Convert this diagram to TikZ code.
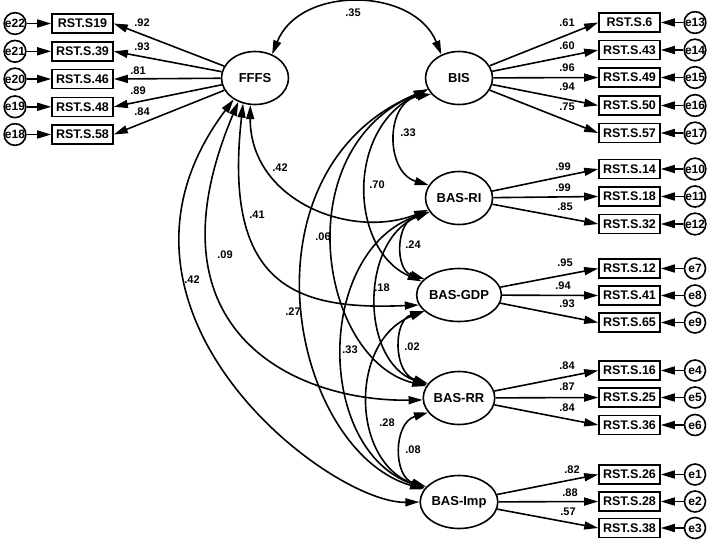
\documentclass[tikz,border=0pt]{standalone}
\usepackage{fontspec}
\setmainfont{Liberation Sans}
\usetikzlibrary{arrows.meta,shapes.geometric}
\begin{document}
\begin{tikzpicture}[x=1pt,y=-1pt,
  lat/.style={draw,ellipse,line width=1.6pt,minimum width=67pt,minimum height=53pt,inner sep=0pt,font=\fontsize{13}{13}\selectfont\bfseries},
  obs/.style={draw,rectangle,line width=1.6pt,minimum width=61pt,minimum height=19pt,inner sep=0pt,font=\fontsize{12.5}{12.5}\selectfont\bfseries},
  err/.style={draw,circle,line width=1.6pt,minimum size=21pt,inner sep=0pt,font=\fontsize{12}{12}\selectfont\bfseries},
  lab/.style={inner sep=0pt,font=\fontsize{11}{11}\selectfont\bfseries},
  arr/.style={line width=1.6pt,-{Triangle[length=14pt,width=8pt]}},
  cov/.style={line width=1.6pt,{Triangle[length=14pt,width=8pt]}-{Triangle[length=14pt,width=8pt]}},
]
\useasboundingbox (0,0) rectangle (714,547);
% latent variables
\node[lat] (ffs) at (255,78) {FFFS};
\node[lat] (bis) at (459,78) {BIS};
\node[lat] (ri) at (459,198) {BAS-RI};
\node[lat] (gdp) at (459,295) {BAS-GDP};
\node[lat] (rr) at (459,398) {BAS-RR};
\node[lat] (imp) at (459,502) {BAS-Imp};
% left indicators (FFFS)
\foreach \nm/\txt/\e/\y in {s19/RST.S19/e22/23.5, s39/RST.S.39/e21/51.3, s46/RST.S.46/e20/79, s48/RST.S.48/e19/106.8, s58/RST.S.58/e18/134.5}{
  \node[obs] (\nm) at (82.5,\y) {\txt};
  \node[err] (\e) at (15,\y) {\e};
  \draw[arr] (\e) -- (\nm);
  \draw[arr] (ffs) -- (\nm.east);
}
% right indicators
\foreach \f/\nm/\txt/\e/\y in {bis/s6/RST.S.6/e13/22.5, bis/s43/RST.S.43/e14/50, bis/s49/RST.S.49/e15/77.5, bis/s50/RST.S.50/e16/105.5, bis/s57/RST.S.57/e17/133,
  ri/s14/RST.S.14/e10/169, ri/s18/RST.S.18/e11/196.5, ri/s32/RST.S.32/e12/224,
  gdp/s12/RST.S.12/e7/268.5, gdp/s41/RST.S.41/e8/295.5, gdp/s65/RST.S.65/e9/322.5,
  rr/s16/RST.S.16/e4/370.5, rr/s25/RST.S.25/e5/397.5, rr/s36/RST.S.36/e6/425,
  imp/s26/RST.S.26/e1/474.5, imp/s28/RST.S.28/e2/501.5, imp/s38/RST.S.38/e3/528}{
  \node[obs] (\nm) at (629.5,\y) {\txt};
  \node[err] (\e) at (695,\y) {\e};
  \draw[arr] (\e) -- (\nm);
  \draw[arr] (\f) -- (\nm.west);
}
% loading labels
\foreach \n/\t/\x/\y in {a1/.92/142/22.7, a2/.93/142/46.7, a3/.81/138/70.7, a4/.89/138/90.7, a5/.84/142/111.7,
  b1/.61/567/22.7, b2/.60/567/46, b3/.96/567/68, b4/.94/567/87, b5/.75/567/107,
  c1/.99/563/167, c2/.99/563/188, c3/.85/565/207,
  d1/.95/565/263, d2/.94/563/286, d3/.93/567/304,
  f1/.84/567/366, f2/.87/567/387, f3/.84/567/408,
  g1/.82/572/470, g2/.88/570/493, g3/.57/568/512}{
  \node[lab] (\n) at (\x,\y) {\t};
}
% covariances
\draw[cov] (ffs.54) .. controls (300,-15) and (414,-13) .. (bis.127);
\draw[cov] (bis.210) .. controls (385,102) and (385,172) .. (ri.157);
\draw[cov] (ffs.260) .. controls (250,200) and (350,240) .. (ri.201);
\draw[cov] (ffs.245) .. controls (222,290) and (300,310) .. (gdp.194);
\draw[cov] (ffs.235) .. controls (140,335) and (300,402) .. (rr.183);
\draw[cov] (ffs.225) .. controls (75,310) and (330,504) .. (imp.180);
\draw[cov] (bis.200) .. controls (345,130) and (350,250) .. (gdp.160);
\draw[cov] (bis.200) .. controls (285,150) and (320,360) .. (rr.160);
\draw[cov] (bis.200) .. controls (235,170) and (290,450) .. (imp.160);
\draw[cov] (ri.205) .. controls (395,222) and (395,270) .. (gdp.155);
\draw[cov] (ri.205) .. controls (360,240) and (360,360) .. (rr.158);
\draw[cov] (ri.205) .. controls (315,250) and (315,450) .. (imp.158);
\draw[cov] (gdp.205) .. controls (393,320) and (393,373) .. (rr.155);
\draw[cov] (gdp.205) .. controls (350,340) and (350,460) .. (imp.158);
\draw[cov] (rr.205) .. controls (393,423) and (393,477) .. (imp.155);
% covariance labels
\foreach \n/\t/\x/\y in {k1/.35/353/13, k2/.33/408/133, k3/.42/280/168, k4/.70/377/185, k5/.41/257/215,
  k6/.06/323/237, k7/.24/413/245, k8/.09/225/255, k9/.42/192/280, k10/.18/382/288,
  k11/.27/293/312, k12/.02/412/347, k13/.33/350/350, k14/.28/387/423, k15/.08/413/450}{
  \node[lab] (\n) at (\x,\y) {\t};
}
\end{tikzpicture}
\end{document}
